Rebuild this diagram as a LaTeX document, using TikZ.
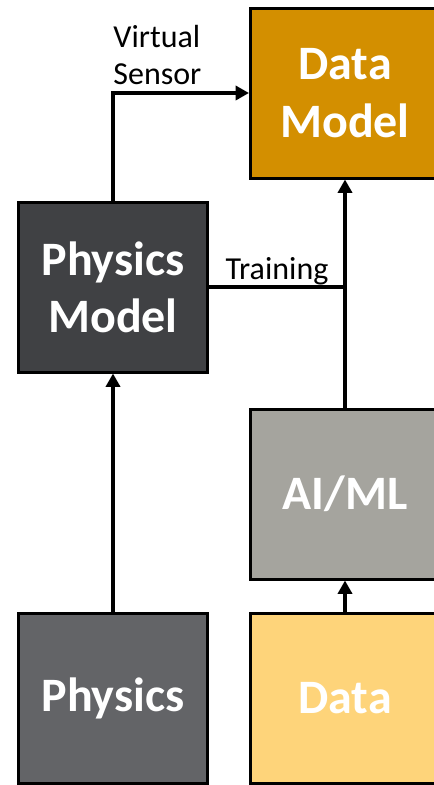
\documentclass[tikz,border=0pt]{standalone}
\usepackage{fontspec}
\setmainfont{Carlito}
\usetikzlibrary{arrows.meta, positioning}
\definecolor{datamodelfill}{RGB}{211,143,0}
\definecolor{physmodelfill}{RGB}{64,65,68}
\definecolor{aimlfill}{RGB}{165,164,158}
\definecolor{physfill}{RGB}{99,100,103}
\definecolor{datafill}{RGB}{254,212,122}
\tikzset{>={Triangle[length=10pt, width=10.5pt]},
         block/.style={draw=black, line width=2.25pt,
                       minimum width=141.75pt, minimum height=127.5pt,
                       inner sep=0pt, align=center, text=white,
                       font=\fontsize{36}{43}\selectfont\bfseries},
         link/.style={line width=2.6pt},
         tag/.style={font=\fontsize{24}{28}\selectfont, inner sep=1pt},
         }

\begin{document}
\begin{tikzpicture}[x=0.75pt, y=-0.75pt]
    \clip (0,0) rectangle (434,785);

    \node[block, fill=datamodelfill] (datamodel) at (345,93) {Data\\Model};
    \node[block, fill=physmodelfill] (physmodel) at (113,287) {Physics\\Model};
    \node[block, fill=aimlfill] (aiml) at (345,494) {AI/ML};
    \node[block, fill=physfill] (phys) at (113,698) {Physics};
    \node[block, fill=datafill] (data) at (345,698) {Data};

    \draw[link, ->] (phys) -- (physmodel);
    \draw[link, ->] (data) -- (aiml);
    \draw[link, ->] (aiml) -- (datamodel);
    \draw[link] (physmodel.east) -- node[tag, above, yshift=-1pt] {Training} (physmodel.east -| aiml.north);
    \draw[link, ->] (physmodel.north) |- node[tag, pos=0.5, above right, align=left, yshift=4pt, xshift=-2pt] {Virtual\\Sensor} (datamodel.west);
\end{tikzpicture}
\end{document}
